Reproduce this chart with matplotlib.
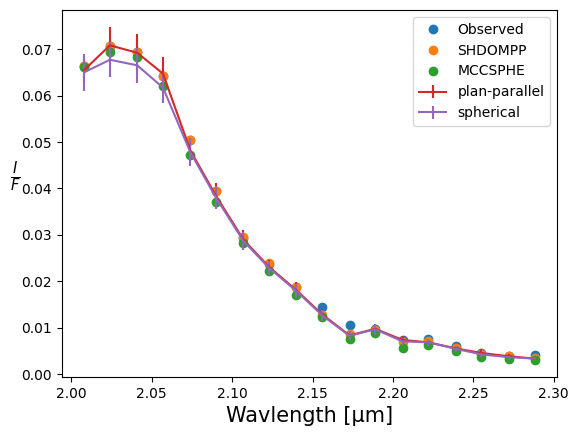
import matplotlib
matplotlib.use("Agg")
import matplotlib.pyplot as plt

wavelength = [2.008, 2.024, 2.041, 2.057, 2.074, 2.090, 2.107, 2.123, 2.140,
              2.156, 2.173, 2.189, 2.206, 2.222, 2.239, 2.255, 2.272, 2.288]

observed = [0.0664, 0.0706, 0.0693, 0.0641, 0.0504, 0.0394, 0.0294, 0.0238, 0.0188,
            0.0145, 0.0107, 0.0097, 0.0075, 0.0076, 0.0061, 0.0045, 0.0039, 0.0041]
shdompp = [0.0664, 0.0707, 0.0694, 0.0642, 0.0505, 0.0395, 0.0295, 0.0239, 0.0189,
           0.0128, 0.0086, 0.0096, 0.0069, 0.0071, 0.0057, 0.0044, 0.0039, 0.0036]
mccsphe = [0.0662, 0.0694, 0.0683, 0.0621, 0.0473, 0.0370, 0.0282, 0.0223, 0.0171,
           0.0124, 0.0076, 0.0089, 0.0057, 0.0063, 0.0051, 0.0037, 0.0034, 0.0031]

plan_parallel = [0.0655, 0.0708, 0.0692, 0.0647, 0.0482, 0.0384, 0.0290, 0.0231, 0.0181,
                 0.0129, 0.0084, 0.0098, 0.0074, 0.0069, 0.0056, 0.0046, 0.0039, 0.0034]
plan_parallel_err = [0.0025, 0.0040, 0.0040, 0.0036, 0.0020, 0.0027, 0.0020, 0.0015, 0.0017,
                     0.0012, 0.0010, 0.0010, 0.0008, 0.0007, 0.0006, 0.0008, 0.0005, 0.0004]
spherical = [0.0650, 0.0677, 0.0665, 0.0617, 0.0478, 0.0380, 0.0287, 0.0229, 0.0179,
             0.0127, 0.0083, 0.0097, 0.0071, 0.0069, 0.0055, 0.0043, 0.0037, 0.0034]
spherical_err = [0.0040, 0.0038, 0.0038, 0.0033, 0.0030, 0.0025, 0.0020, 0.0015, 0.0015,
                 0.0012, 0.0010, 0.0012, 0.0008, 0.0007, 0.0006, 0.0006, 0.0005, 0.0004]

fig = plt.figure(figsize=(5.78, 4.38), dpi=100)
ax = fig.add_axes([0.1067, 0.139, 0.857, 0.838])

ax.plot(wavelength, observed, 'o', color='C0', label='Observed')
ax.plot(wavelength, shdompp, 'o', color='C1', label='SHDOMPP')
ax.plot(wavelength, mccsphe, 'o', color='C2', label='MCCSPHE')
ax.errorbar(wavelength, plan_parallel, yerr=plan_parallel_err, color='C3', label='plan-parallel')
ax.errorbar(wavelength, spherical, yerr=spherical_err, color='C4', label='spherical')

ax.set_xlabel('Wavlength [μm]', fontsize=15)
ax.set_ylabel(r'$\frac{I}{F}$', fontsize=15, rotation=0)
ax.legend(loc='upper right')

fig.savefig('out.png', dpi=100)
